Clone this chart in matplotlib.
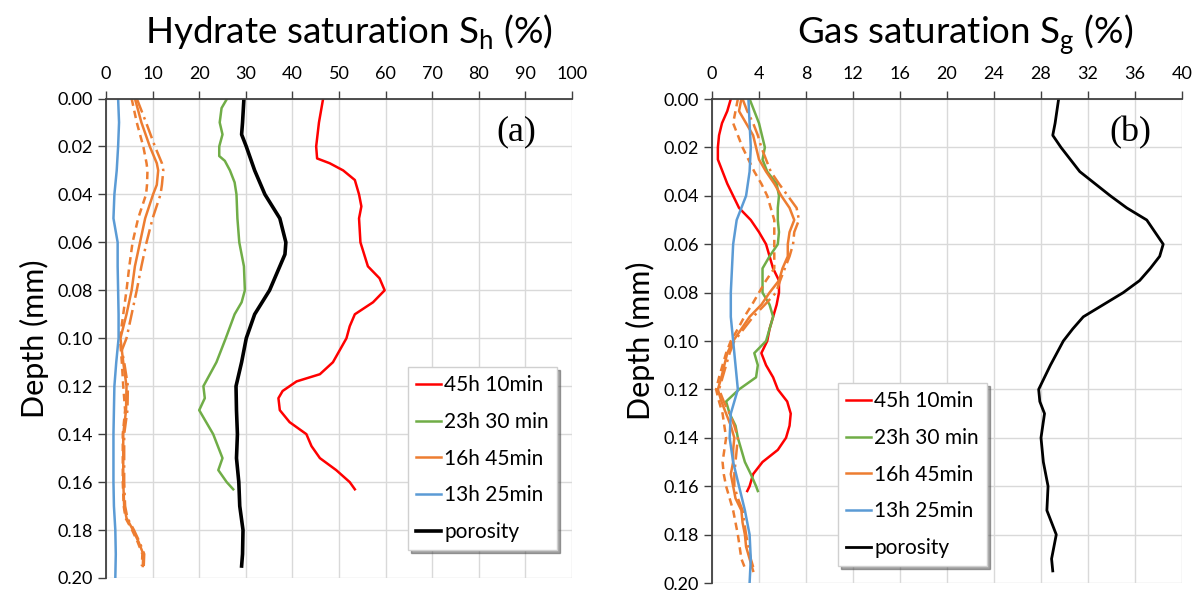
import matplotlib
matplotlib.use("Agg")
import matplotlib.pyplot as plt

plt.rcParams['font.family'] = ['Lato', 'DejaVu Sans']

# ---------------- (a) Hydrate saturation ----------------
d_a_red = [0.000, 0.010, 0.020, 0.025, 0.027, 0.030, 0.034, 0.040, 0.045, 0.050, 0.060, 0.070,
           0.075, 0.080, 0.085, 0.090, 0.095, 0.100, 0.110, 0.115, 0.118, 0.122, 0.125, 0.130,
           0.135, 0.140, 0.145, 0.150, 0.155, 0.160, 0.163]
sh_red = [46.6, 45.7, 45.1, 45.3, 48.0, 50.9, 53.4, 54.3, 54.8, 54.3, 54.6, 56.2,
          58.7, 59.8, 57.3, 53.4, 52.3, 51.6, 48.7, 45.9, 40.9, 37.9, 37.0, 37.3,
          39.4, 43.0, 44.1, 45.9, 49.4, 52.3, 53.4]

d_a_green = [0.000, 0.004, 0.010, 0.015, 0.020, 0.024, 0.026, 0.030, 0.035, 0.040, 0.050,
             0.060, 0.070, 0.080, 0.085, 0.090, 0.100, 0.110, 0.120, 0.125, 0.130, 0.140,
             0.150, 0.155, 0.160, 0.163]
sh_green = [26.0, 24.8, 24.4, 25.0, 24.3, 24.3, 25.5, 26.6, 27.6, 28.0, 28.2,
            28.6, 29.6, 29.8, 29.1, 27.6, 25.7, 23.7, 20.9, 21.2, 20.0, 23.0,
            25.0, 24.1, 25.9, 27.3]

d_a_orange = [0.000, 0.010, 0.020, 0.027, 0.030, 0.036, 0.040, 0.050, 0.060, 0.070, 0.080,
              0.090, 0.100, 0.105, 0.110, 0.120, 0.130, 0.140, 0.150, 0.160, 0.170, 0.175,
              0.180, 0.185, 0.190, 0.195]
sh_orange = [6.2, 7.6, 9.4, 10.9, 11.2, 10.9, 10.1, 8.4, 7.3, 6.2, 5.5,
             4.4, 3.1, 3.4, 3.7, 4.4, 4.3, 3.7, 3.7, 3.7, 3.9, 4.4,
             5.8, 7.0, 8.0, 7.9]
sh_orange_lo = [5.5, 6.6, 8.0, 8.7, 8.9, 8.8, 8.6, 6.9, 5.7, 5.0, 4.4,
                3.7, 3.0, 3.2, 3.4, 3.7, 4.1, 3.6, 3.6, 3.6, 3.8, 4.2,
                5.6, 6.8, 7.8, 7.7]
sh_orange_hi = [6.6, 8.6, 10.5, 12.0, 12.3, 12.0, 11.7, 10.0, 8.7, 7.6, 6.6,
                5.5, 4.4, 3.4, 3.9, 4.7, 4.6, 3.9, 3.9, 3.9, 4.1, 4.6,
                6.0, 7.2, 8.2, 8.1]

d_a_blue = [0.000, 0.010, 0.020, 0.030, 0.040, 0.050, 0.060, 0.070, 0.080, 0.090, 0.100,
            0.110, 0.120, 0.130, 0.140, 0.150, 0.160, 0.170, 0.180, 0.190, 0.200]
sh_blue = [2.6, 2.8, 2.6, 2.3, 1.8, 1.6, 2.5, 2.5, 2.6, 2.7, 2.7,
           2.2, 1.8, 1.7, 1.6, 1.6, 1.6, 1.7, 2.0, 2.1, 2.0]

d_a_black = [0.000, 0.010, 0.015, 0.020, 0.030, 0.040, 0.050, 0.060, 0.065, 0.070, 0.080,
             0.090, 0.100, 0.110, 0.120, 0.130, 0.140, 0.150, 0.160, 0.170, 0.180, 0.190, 0.195]
sh_black = [29.6, 29.3, 29.1, 30.1, 31.9, 34.1, 37.3, 38.6, 38.4, 37.3, 35.1,
            31.9, 30.1, 29.1, 27.9, 28.0, 28.2, 28.0, 28.5, 28.7, 29.4, 29.3, 29.1]

# ---------------- (b) Gas saturation ----------------
d_b_red = [0.000, 0.005, 0.010, 0.015, 0.020, 0.025, 0.030, 0.035, 0.040, 0.045, 0.050,
           0.055, 0.060, 0.065, 0.070, 0.075, 0.080, 0.085, 0.090, 0.095, 0.100, 0.105,
           0.110, 0.115, 0.120, 0.125, 0.130, 0.135, 0.140, 0.145, 0.150, 0.155, 0.160, 0.162]
sg_red = [1.6, 1.3, 0.85, 0.6, 0.5, 0.5, 0.9, 1.3, 1.8, 2.3, 3.3,
          4.0, 4.6, 4.9, 5.2, 5.7, 5.7, 5.5, 5.2, 4.9, 4.7, 4.2,
          4.6, 5.2, 5.6, 6.4, 6.7, 6.6, 6.3, 5.6, 4.3, 3.5, 3.2, 3.0]

d_b_green = [0.000, 0.010, 0.020, 0.025, 0.030, 0.035, 0.040, 0.045, 0.050, 0.055, 0.060,
             0.065, 0.070, 0.075, 0.080, 0.085, 0.090, 0.095, 0.100, 0.105, 0.110, 0.115,
             0.120, 0.125, 0.130, 0.135, 0.140, 0.145, 0.150, 0.155, 0.160, 0.162]
sg_green = [3.2, 4.0, 4.5, 4.3, 4.7, 5.5, 5.7, 5.6, 5.6, 5.7, 5.6,
            4.9, 4.3, 4.3, 4.3, 4.9, 5.2, 4.9, 4.6, 3.6, 3.9, 3.75,
            2.3, 1.2, 1.5, 2.0, 2.2, 2.5, 2.8, 3.3, 3.75, 3.9]

d_b_orange = [0.000, 0.005, 0.010, 0.015, 0.020, 0.025, 0.030, 0.035, 0.040, 0.045, 0.050,
              0.055, 0.060, 0.065, 0.070, 0.075, 0.080, 0.085, 0.090, 0.095, 0.100, 0.105,
              0.110, 0.115, 0.120, 0.125, 0.130, 0.135, 0.140, 0.145, 0.150, 0.155, 0.160,
              0.165, 0.170, 0.175, 0.180, 0.185, 0.190, 0.195]
sg_orange = [2.5, 2.3, 2.9, 3.5, 3.75, 4.0, 4.6, 5.3, 5.9, 6.6, 7.0,
             6.6, 6.45, 6.45, 6.0, 5.7, 4.9, 4.2, 3.2, 2.5, 1.8, 1.3,
             1.05, 0.8, 0.5, 0.8, 1.2, 1.6, 1.9, 1.8, 1.8, 1.6, 1.8,
             2.0, 2.5, 2.6, 2.8, 2.9, 3.2, 3.5]
sg_orange_lo = [2.2, 2.0, 1.8, 2.2, 2.6, 3.1, 3.6, 4.2, 4.7, 5.0, 5.3,
                5.3, 5.3, 5.3, 5.3, 4.6, 4.0, 3.4, 2.75, 2.2, 1.6, 1.2,
                0.9, 0.6, 0.35, 0.6, 0.9, 1.05, 1.2, 1.05, 0.9, 1.0, 1.2,
                1.5, 1.8, 2.0, 2.2, 2.35, 2.5, 2.9]
sg_orange_hi = [2.6, 3.0, 3.5, 3.9, 4.2, 4.6, 5.0, 5.7, 6.45, 7.2, 7.4,
                7.0, 6.9, 6.6, 6.2, 5.8, 5.45, 4.5, 3.5, 2.7, 1.9, 1.5,
                1.2, 0.9, 0.6, 1.0, 1.5, 1.9, 2.2, 2.1, 2.0, 1.9, 1.9,
                2.2, 2.6, 2.75, 2.9, 3.1, 3.3, 3.6]

d_b_blue = [0.000, 0.010, 0.020, 0.030, 0.040, 0.045, 0.050, 0.060, 0.070, 0.080, 0.090,
            0.100, 0.110, 0.120, 0.125, 0.130, 0.140, 0.150, 0.160, 0.170, 0.180, 0.190, 0.200]
sg_blue = [3.1, 3.2, 3.3, 3.2, 2.9, 2.5, 2.1, 1.8, 1.7, 1.6, 1.6,
           1.8, 2.0, 2.2, 1.9, 1.6, 1.5, 1.8, 2.3, 2.8, 3.2, 3.3, 3.2]

d_b_black = [0.000, 0.010, 0.015, 0.020, 0.030, 0.040, 0.045, 0.050, 0.060, 0.065, 0.070,
             0.075, 0.080, 0.085, 0.090, 0.095, 0.100, 0.110, 0.120, 0.125, 0.130, 0.140,
             0.150, 0.160, 0.170, 0.180, 0.190, 0.195]
sg_black = [29.5, 29.2, 29.0, 29.7, 31.3, 33.9, 35.3, 37.0, 38.4, 38.1, 37.3,
            36.4, 35.0, 33.3, 31.6, 30.7, 29.9, 28.8, 27.8, 27.9, 28.3, 28.0,
            28.2, 28.6, 28.5, 29.3, 28.9, 29.0]

labels = ["45h 10min", "23h 30 min", "16h 45min", "13h 25min", "porosity"]
c_red, c_green, c_orange, c_blue = "#FF0000", "#70AD47", "#ED7D31", "#5B9BD5"

fig = plt.figure(figsize=(11.99, 5.94), dpi=100)
ax1 = fig.add_axes([106/1199, 1-578/594, 466/1199, 479.5/594])
ax2 = fig.add_axes([712/1199, 1-583/594, 470/1199, 484/594])


def style(ax, xmax, xstep):
    ax.set_xlim(0, xmax)
    ax.set_ylim(0.20, 0.0)
    ax.set_xticks(range(0, xmax + 1, xstep))
    ax.set_yticks([i * 0.02 for i in range(11)])
    ax.set_yticklabels(["%.2f" % (i * 0.02) for i in range(11)])
    ax.xaxis.tick_top()
    ax.tick_params(axis='both', labelsize=13, direction='out', length=6, width=1, color='#404040')
    ax.tick_params(axis='x', pad=6)
    ax.grid(True, color='#D9D9D9', lw=1)
    ax.set_axisbelow(True)
    for s in ['right', 'bottom']:
        ax.spines[s].set_visible(False)
    for s in ['left', 'top']:
        ax.spines[s].set_color('#404040')
        ax.spines[s].set_linewidth(1.3)
    ax.set_ylabel("Depth (mm)", fontsize=22, labelpad=6)


lw = 1.8
# panel a
ax1.plot(sh_red, d_a_red, color=c_red, lw=lw, label=labels[0])
ax1.plot(sh_green, d_a_green, color=c_green, lw=lw, label=labels[1])
ax1.plot(sh_orange, d_a_orange, color=c_orange, lw=lw, label=labels[2])
ax1.plot(sh_orange_lo, d_a_orange, color=c_orange, lw=lw, ls=(0, (3, 2)))
ax1.plot(sh_orange_hi, d_a_orange, color=c_orange, lw=lw, ls=(0, (6, 2, 1, 2)))
ax1.plot(sh_blue, d_a_blue, color=c_blue, lw=lw, label=labels[3])
ax1.plot(sh_black, d_a_black, color='black', lw=2.6, label=labels[4])
style(ax1, 100, 10)
ax1.text(0.88, 0.93, "(a)", transform=ax1.transAxes, fontsize=26, family='Liberation Serif',
         ha='center', va='center')

# panel b
ax2.plot(sg_red, d_b_red, color=c_red, lw=lw, label=labels[0])
ax2.plot(sg_green, d_b_green, color=c_green, lw=lw, label=labels[1])
ax2.plot(sg_orange, d_b_orange, color=c_orange, lw=lw, label=labels[2])
ax2.plot(sg_orange_lo, d_b_orange, color=c_orange, lw=lw, ls=(0, (3, 2)))
ax2.plot(sg_orange_hi, d_b_orange, color=c_orange, lw=lw, ls=(0, (6, 2, 1, 2)))
ax2.plot(sg_blue, d_b_blue, color=c_blue, lw=lw, label=labels[3])
ax2.plot(sg_black, d_b_black, color='black', lw=2.0, label=labels[4])
style(ax2, 40, 4)
ax2.text(0.89, 0.93, "(b)", transform=ax2.transAxes, fontsize=26, family='Liberation Serif',
         ha='center', va='center')

for ax, anchor in [(ax1, (0.648, 0.44)), (ax2, (0.268, 0.413))]:
    leg = ax.legend(loc='upper left', bbox_to_anchor=anchor, fontsize=15, frameon=True,
                    fancybox=False, shadow=True, handlelength=1.2, handletextpad=0.15,
                    labelspacing=0.8, borderpad=0.4, borderaxespad=0)
    leg.get_frame().set_edgecolor('#D0D0D0')
    leg.get_frame().set_linewidth(1)

fig.text(349/1199, 1-32/594, "Hydrate saturation S$_\\mathregular{h}$ (%)", fontsize=26.5,
         ha='center', va='center')
fig.text(965/1199, 1-35/594, "Gas saturation S$_\\mathregular{g}$ (%)", fontsize=26.5,
         ha='center', va='center')

fig.savefig("out.png", dpi=100)
